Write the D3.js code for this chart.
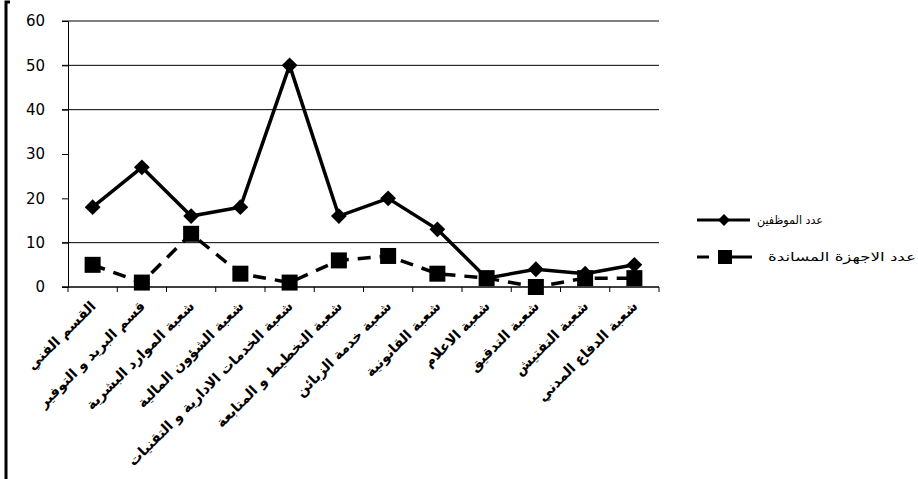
<!DOCTYPE html>
<html>
<head>
<meta charset="utf-8">
<script src="https://cdn.jsdelivr.net/npm/d3@7"></script>
<style>
  html, body { margin: 0; padding: 0; background: #fff; }
  svg { display: block; }
</style>
</head>
<body>
<svg id="chart" width="918" height="479"></svg>
<script>
// ─── Data ────────────────────────────────────────────
const categories = [
    'القسم الفني',
    'قسم البريد و التوفير',
    'شعبة الموارد البشرية',
    'شعبة الشؤون المالية',
    'شعبة الخدمات الادارية و التقنيات',
    'شعبة التخطيط و المتابعة',
    'شعبة خدمة الزبائن',
    'شعبة القانونية',
    'شعبة الاعلام',
    'شعبة التدقيق',
    'شعبة التفتيش',
    'شعبة الدفاع المدني'
];
const employees = [18, 27, 16, 18, 50, 16, 20, 13, 2, 4, 3, 5];
const supportUnits = [5, 1, 12, 3, 1, 6, 7, 3, 2, 0, 2, 2];
const seriesNames = ['عدد الموظفين', 'عدد الاجهزة المساندة'];
const yTicks = [0, 10, 20, 30, 40, 50, 60];
const gridValues = [10, 40, 50, 60];   // the reference only shows these gridlines

// ─── Layout ──────────────────────────────────────────
const plot = { left: 68, right: 659, top: 21, bottom: 287 };
const FONT = '"DejaVu Sans", Verdana, sans-serif';

const svg = d3.select('#chart');

const x = d3.scaleBand()
    .domain(categories)
    .range([plot.left, plot.right]);

const y = d3.scaleLinear()
    .domain([0, 60])
    .range([plot.bottom, plot.top]);

// outer frame line on the left
svg.append('path')
    .attr('d', 'M10,2 H6 V479')
    .attr('fill', 'none')
    .attr('stroke', '#000')
    .attr('stroke-width', 3);

// gridlines
svg.append('g')
    .selectAll('line')
    .data(gridValues)
    .enter().append('line')
    .attr('x1', plot.left - 6).attr('x2', plot.right)
    .attr('y1', d => y(d)).attr('y2', d => y(d))
    .attr('stroke', '#000')
    .attr('stroke-width', 1);

// y axis
const yAxis = svg.append('g')
    .attr('transform', `translate(${plot.left},0)`)
    .call(d3.axisLeft(y).tickValues(yTicks).tickSize(6).tickPadding(17));
yAxis.select('.domain').attr('stroke', '#000');
yAxis.selectAll('.tick line').attr('stroke', '#000');
yAxis.selectAll('.tick text')
    .attr('font-family', FONT)
    .attr('font-size', '15px')
    .attr('fill', '#000');

// x axis: baseline plus ticks on category boundaries
svg.append('line')
    .attr('x1', plot.left - 6).attr('x2', plot.right)
    .attr('y1', plot.bottom).attr('y2', plot.bottom)
    .attr('stroke', '#000').attr('stroke-width', 1.5);

const boundaries = categories.map(c => x(c)).concat([plot.right]);
svg.append('g')
    .selectAll('line')
    .data(boundaries)
    .enter().append('line')
    .attr('x1', d => d).attr('x2', d => d)
    .attr('y1', plot.bottom).attr('y2', plot.bottom + 5)
    .attr('stroke', '#000');

// category labels, rotated
svg.append('g')
    .selectAll('text')
    .data(categories)
    .enter().append('text')
    .attr('transform', d => `translate(${x(d) + x.bandwidth() / 2 + 4},${plot.bottom + 20}) rotate(-45)`)
    .attr('text-anchor', 'end')
    .attr('font-family', FONT)
    .attr('font-weight', 'bold')
    .attr('font-size', '14px')
    .attr('fill', '#000')
    .text(d => d);

// ─── Series ─────────────────────────────────────────
const cx = i => x(categories[i]) + x.bandwidth() / 2;

const line = d3.line()
    .x((d, i) => cx(i))
    .y(d => y(d));

svg.append('path')
    .datum(supportUnits)
    .attr('d', line)
    .attr('fill', 'none')
    .attr('stroke', '#000')
    .attr('stroke-width', 3.5)
    .attr('stroke-dasharray', '13,9');

svg.append('path')
    .datum(employees)
    .attr('d', line)
    .attr('fill', 'none')
    .attr('stroke', '#000')
    .attr('stroke-width', 3.5);

svg.append('g')
    .selectAll('path')
    .data(employees)
    .enter().append('path')
    .attr('transform', (d, i) => `translate(${cx(i)},${y(d)}) rotate(45)`)
    .attr('d', d3.symbol().type(d3.symbolSquare).size(125))
    .attr('fill', '#000');

svg.append('g')
    .selectAll('rect')
    .data(supportUnits)
    .enter().append('rect')
    .attr('x', (d, i) => cx(i) - 8)
    .attr('y', d => y(d) - 8)
    .attr('width', 16).attr('height', 16)
    .attr('fill', '#000');

// ─── Legend ─────────────────────────────────────────
const legend = svg.append('g');
const ly = [220, 257];
const legendTextWidth = [66, 148];

legend.append('line')
    .attr('x1', 697).attr('x2', 750)
    .attr('y1', ly[0]).attr('y2', ly[0])
    .attr('stroke', '#000').attr('stroke-width', 3);
legend.append('path')
    .attr('transform', `translate(724,${ly[0]}) rotate(45)`)
    .attr('d', d3.symbol().type(d3.symbolSquare).size(70))
    .attr('fill', '#000');

legend.append('line')
    .attr('x1', 697).attr('x2', 752)
    .attr('y1', ly[1]).attr('y2', ly[1])
    .attr('stroke', '#000').attr('stroke-width', 3)
    .attr('stroke-dasharray', '12,14,30');
legend.append('rect')
    .attr('x', 718).attr('y', ly[1] - 7)
    .attr('width', 14).attr('height', 14)
    .attr('fill', '#000');

legend.selectAll('text')
    .data(seriesNames)
    .enter().append('text')
    .attr('x', (d, i) => i === 0 ? 757 : 768)
    .attr('y', (d, i) => ly[i] + 4)
    .attr('text-anchor', 'start')
    .attr('direction', 'ltr')
    .attr('font-family', FONT)
    .attr('font-size', '12px')
    .attr('textLength', (d, i) => legendTextWidth[i])
    .attr('lengthAdjust', 'spacingAndGlyphs')
    .attr('fill', '#000')
    .text(d => d);
</script>
</body>
</html>
